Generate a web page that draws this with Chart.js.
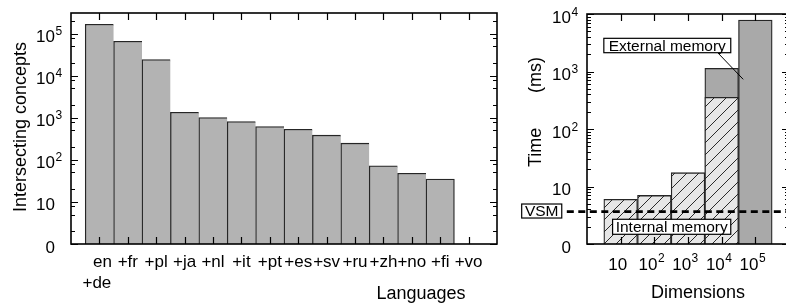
<!DOCTYPE html>
<html><head><meta charset="utf-8">
<script src="https://cdn.jsdelivr.net/npm/chart.js@4.4.1/dist/chart.umd.min.js"></script>
<style>
html,body{margin:0;padding:0;background:#fff;overflow:hidden;width:786px;height:303px;position:relative;}
#c1{position:absolute;left:0;top:0;}
#c2{position:absolute;left:500px;top:0;}
</style></head><body>
<canvas id="c1" width="510" height="303"></canvas>
<canvas id="c2" width="292" height="303"></canvas>
<script>
// ---- data: left chart ----
const languages = [['en','+de'],'+fr','+pl','+ja','+nl','+it','+pt','+es','+sv','+ru','+zh','+no','+fi','+vo'];
const concepts = [166000, 65600, 24100, 1350, 1010, 813, 618, 533, 384, 248, 72, 48, 35, null];
const conceptTicks = [1, 10, 100, 1000, 10000, 100000];
const conceptTickLabels = ['0', '10', '10^2', '10^3', '10^4', '10^5'];

// ---- data: right chart ----
const dimensions = ['10', '10^2', '10^3', '10^4', '10^5'];
const internalMs = [6.0, 7.0, 17.4, 355, null];
const externalMs = [null, null, null, 1135, 7870];
const vsmMs = [3.65];
const timeTicks = [1, 10, 100, 1000, 10000];
const timeTickLabels = ['0', '10', '10^2', '10^3', '10^4'];

const FONT = '"Liberation Sans", Arial, sans-serif';

function drawPow(ctx, label, x, y, align, size, supSize, supRise) {
  const parts = label.split('^');
  const base = parts[0], sup = parts[1];
  ctx.font = size + 'px ' + FONT;
  const bw = ctx.measureText(base).width;
  let sw = 0;
  if (sup) { ctx.font = supSize + 'px ' + FONT; sw = ctx.measureText(sup).width; }
  let x0 = align === 'right' ? x - bw : x - (bw + sw) / 2;
  ctx.textAlign = 'left'; ctx.textBaseline = 'alphabetic'; ctx.fillStyle = '#000';
  ctx.font = size + 'px ' + FONT; ctx.fillText(base, x0, y);
  if (sup) { ctx.font = supSize + 'px ' + FONT; ctx.fillText(sup, x0 + bw + 0.5, y - supRise); }
}

function minorList(max, mults) {
  const out = [];
  for (let d = 1; d < max; d *= 10) for (const m of mults) { if (d * m < max) out.push(d * m); }
  return out;
}

function framePlugin(cfg) {
  return {
    id: 'frame' + cfg.name,
    afterDatasetsDraw(chart) {
      const ctx = chart.ctx, a = chart.chartArea, xs = chart.scales.x, ys = chart.scales.y;
      ctx.save();
      ctx.strokeStyle = '#000';
      ctx.lineWidth = 1.2;
      ctx.beginPath();
      cfg.xTicks.forEach(v => {
        const px = Math.round(xs.getPixelForValue(v)) + 0.5;
        ctx.moveTo(px, a.top); ctx.lineTo(px, a.top + 7);
        ctx.moveTo(px, a.bottom); ctx.lineTo(px, a.bottom - 7);
      });
      cfg.yMajor.forEach(v => {
        const py = Math.round(ys.getPixelForValue(v)) + 0.5;
        ctx.moveTo(a.left, py); ctx.lineTo(a.left + 7, py);
        ctx.moveTo(a.right, py); ctx.lineTo(a.right - 7, py);
      });
      cfg.yMinor.forEach(v => {
        const py = Math.round(ys.getPixelForValue(v)) + 0.5;
        ctx.moveTo(a.left, py); ctx.lineTo(a.left + 4, py);
        ctx.moveTo(a.right, py); ctx.lineTo(a.right - 4, py);
      });
      ctx.stroke();
      ctx.lineWidth = 1.6;
      ctx.strokeRect(a.left, a.top, a.right - a.left, a.bottom - a.top);
      // y tick labels
      cfg.yMajor.forEach((v, i) => {
        const py = ys.getPixelForValue(v);
        drawPow(ctx, cfg.yLabels[i], a.left - 16, py + 8.5, 'right', 17, 12, 7);
      });
      // x tick labels
      cfg.xLabels.forEach((lab, i) => {
        const px = xs.getPixelForValue(i) + cfg.xLabelShift;
        const lines = Array.isArray(lab) ? lab : [lab];
        const offs = lines.length > 1 ? [3, -2.5] : [0];
        lines.forEach((ln, j) => drawPow(ctx, ln, px + offs[j], a.bottom + cfg.xLabelBase + j * 21, 'center', 17, 12, 8));
      });
      // titles
      ctx.fillStyle = '#000';
      ctx.font = '18px ' + FONT;
      ctx.textAlign = 'center'; ctx.textBaseline = 'alphabetic';
      ctx.fillText(cfg.xTitle, cfg.xTitlePos[0], cfg.xTitlePos[1]);
      cfg.yTitleParts.forEach(p => {
        ctx.save();
        ctx.translate(p.x, p.y);
        ctx.rotate(-Math.PI / 2);
        ctx.textAlign = p.align;
        ctx.fillText(p.text, 0, 0);
        ctx.restore();
      });
      ctx.restore();
    }
  };
}

// ---------- left chart ----------
const lastBar = concepts.reduce((acc, v, i) => v != null ? i : acc, 0);
new Chart(document.getElementById('c1'), {
  type: 'bar',
  data: {
    datasets: [{
      data: concepts.map((v, i) => ({ x: i, y: v })),
      backgroundColor: '#b3b3b3',
      borderColor: '#262626',
      borderWidth: c => ({ top: 1.3, left: 1.3, right: c.dataIndex === lastBar ? 1.3 : 0, bottom: 0 }),
      barPercentage: 1, categoryPercentage: 1
    }]
  },
  options: {
    responsive: false, animation: false, events: [],
    layout: { padding: { left: 71, top: 13, right: 13, bottom: 59 } },
    scales: {
      x: { type: 'linear', min: -1, max: languages.length, offset: false, display: false },
      y: { type: 'logarithmic', min: 1, max: 3.07e5, display: false }
    },
    plugins: { legend: { display: false }, tooltip: { enabled: false } }
  },
  plugins: [framePlugin({
    name: 'L', xTicks: languages.map((_, i) => i), xLabels: languages, xLabelShift: 0, xLabelBase: 22.5,
    yMajor: conceptTicks, yLabels: conceptTickLabels, yMinor: minorList(3.07e5, [2, 5, 8]),
    xTitle: 'Languages', xTitlePos: [421, 299],
    yTitleParts: [{ text: 'Intersecting concepts', x: 26, y: 127, align: 'center' }]
  })]
});

// ---------- right chart ----------
const c2 = document.getElementById('c2');
function makeHatch(targetCtx) {
  const c = document.createElement('canvas'); c.width = 12; c.height = 12;
  const g = c.getContext('2d');
  g.fillStyle = '#e6e6e6'; g.fillRect(0, 0, 12, 12);
  g.strokeStyle = '#2a2a2a'; g.lineWidth = 1;
  g.beginPath();
  for (const o of [-12, 0, 12]) { g.moveTo(o, 12); g.lineTo(o + 12, 0); }
  g.stroke();
  return targetCtx.createPattern(c, 'repeat');
}
const hatch = makeHatch(c2.getContext('2d'));

const notesPlugin = {
  id: 'notes',
  afterDraw(chart) {
    const ctx = chart.ctx, a = chart.chartArea, xs = chart.scales.x, ys = chart.scales.y;
    const X = v => xs.getPixelForValue(v), Y = v => ys.getPixelForValue(v);
    ctx.save();
    // VSM dashed line
    const vy = Y(vsmMs[0]);
    ctx.strokeStyle = '#000'; ctx.lineWidth = 2.6; ctx.setLineDash([7, 4.5]);
    ctx.beginPath(); ctx.moveTo(X(-1.6), vy); ctx.lineTo(X(5.2), vy); ctx.stroke();
    ctx.setLineDash([]);
    // leader line
    ctx.lineWidth = 1;
    ctx.beginPath(); ctx.moveTo(X(2.89), Y(2100)); ctx.lineTo(X(3.64), Y(731)); ctx.stroke();
    function box(text, x0, x1, yTop, yBot) {
      const l = X(x0), r = X(x1), t = Y(yTop), b = Y(yBot);
      ctx.fillStyle = '#fff'; ctx.fillRect(l, t, r - l, b - t);
      ctx.strokeStyle = '#000'; ctx.lineWidth = 1.2; ctx.strokeRect(l, t, r - l, b - t);
      ctx.fillStyle = '#000'; ctx.font = '15.5px ' + FONT;
      ctx.textAlign = 'center'; ctx.textBaseline = 'middle';
      ctx.fillText(text, (l + r) / 2, (t + b) / 2 + 1);
    }
    box('External memory', -0.5, 3.27, 3776, 2123);
    box('Internal memory', -0.24, 3.27, 2.69, 1.475);
    box('VSM', -2.94, -1.75, 4.96, 2.83);
    ctx.restore();
  }
};

new Chart(c2, {
  type: 'bar',
  data: {
    datasets: [
      {
        data: internalMs.map((v, i) => ({ x: i, y: v })),
        backgroundColor: hatch, borderColor: '#262626',
        borderWidth: { top: 1.3, left: 1.3, right: 1.3, bottom: 0 },
        grouped: false, barPercentage: 1, categoryPercentage: 1
      },
      {
        data: externalMs.map((v, i) => ({ x: i, y: v })),
        backgroundColor: '#a9a9a9', borderColor: '#262626',
        borderWidth: { top: 1.3, left: 1.3, right: 1.3, bottom: 0 },
        grouped: false, barPercentage: 1, categoryPercentage: 1
      }
    ]
  },
  options: {
    responsive: false, animation: false, events: [],
    layout: { padding: { left: 87, top: 14, right: 3, bottom: 59 } },
    scales: {
      x: { type: 'linear', min: -1, max: dimensions.length, offset: false, display: false },
      y: { type: 'logarithmic', min: 1, max: 10000, display: false }
    },
    plugins: { legend: { display: false }, tooltip: { enabled: false } }
  },
  plugins: [framePlugin({
    name: 'R', xTicks: dimensions.map((_, i) => i), xLabels: dimensions, xLabelShift: -3, xLabelBase: 26,
    yMajor: timeTicks, yLabels: timeTickLabels, yMinor: minorList(10000, [2, 3, 4, 5, 6, 7, 8, 9]),
    xTitle: 'Dimensions', xTitlePos: [198, 298],
    yTitleParts: [
      { text: 'Time', x: 41, y: 167, align: 'left' },
      { text: '(ms)', x: 41, y: 57, align: 'right' }
    ]
  }), notesPlugin]
});
</script>
</body></html>
